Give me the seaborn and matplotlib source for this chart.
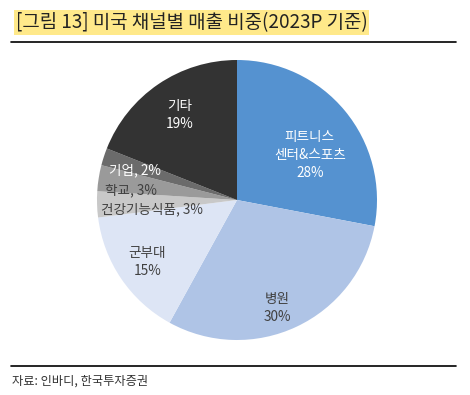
import matplotlib
matplotlib.use('Agg')
import matplotlib.pyplot as plt
import seaborn as sns
import numpy as np

# 데이터
channels = ['피트니스\n센터&스포츠', '병원', '군부대', '건강기능식품', '학교', '기업', '기타']
shares = [28, 30, 15, 3, 3, 2, 19]
inline_label = [False, False, False, True, True, True, False]

colors = ['#5592D0', '#AFC4E6', '#DDE5F5', '#C8C8C8', '#9A9A9A', '#6B6B6B', '#333333']
text_colors = ['white', '#404040', '#404040', '#404040', '#404040', 'white', 'white']
# 레이블 위치 (반지름 1 기준)
label_pos = [(0.52, 0.32), (0.29, -0.77), (-0.64, -0.44), (-0.61, -0.065),
             (-0.76, 0.07), (-0.73, 0.21), (-0.41, 0.61)]

sns.set_theme(style='white')
plt.rcParams['font.family'] = ['Noto Sans CJK KR', 'DejaVu Sans']

fig = plt.figure(figsize=(4.7, 3.95), dpi=100)
W, H = 470, 395

ax = fig.add_axes([(237 - 140) / W, (H - 340) / H, 280 / W, 280 / H])
ax.pie(shares, colors=colors, startangle=90, counterclock=False,
       wedgeprops={'linewidth': 0})
ax.set_xlim(-1, 1)
ax.set_ylim(-1, 1)
ax.set_aspect('equal')
ax.axis('off')

for name, val, inl, tc, (x, y) in zip(channels, shares, inline_label, text_colors, label_pos):
    txt = f'{name}, {val}%' if inl else f'{name}\n{val}%'
    ax.text(x, y, txt, ha='center', va='center', fontsize=9.8, color=tc,
            linespacing=1.35)

# 제목
fig.text(16 / W, 1 - 22.5 / H, '[그림 13] 미국 채널별 매출 비중(2023P 기준)',
         fontsize=13.6, color='#222222', va='center', ha='left',
         bbox=dict(boxstyle='square,pad=0.08', fc='#FFE98A', ec='none'))

# 구분선
fig.add_artist(plt.Line2D([11 / W, 456 / W], [1 - 42 / H, 1 - 42 / H], color='black', lw=1.2))
fig.add_artist(plt.Line2D([11 / W, 456 / W], [1 - 366 / H, 1 - 366 / H], color='black', lw=1.2))

fig.text(12 / W, 1 - 381 / H, '자료: 인바디, 한국투자증권', fontsize=8.8,
         color='#333333', va='center', ha='left')

fig.savefig('out.png', dpi=100)
